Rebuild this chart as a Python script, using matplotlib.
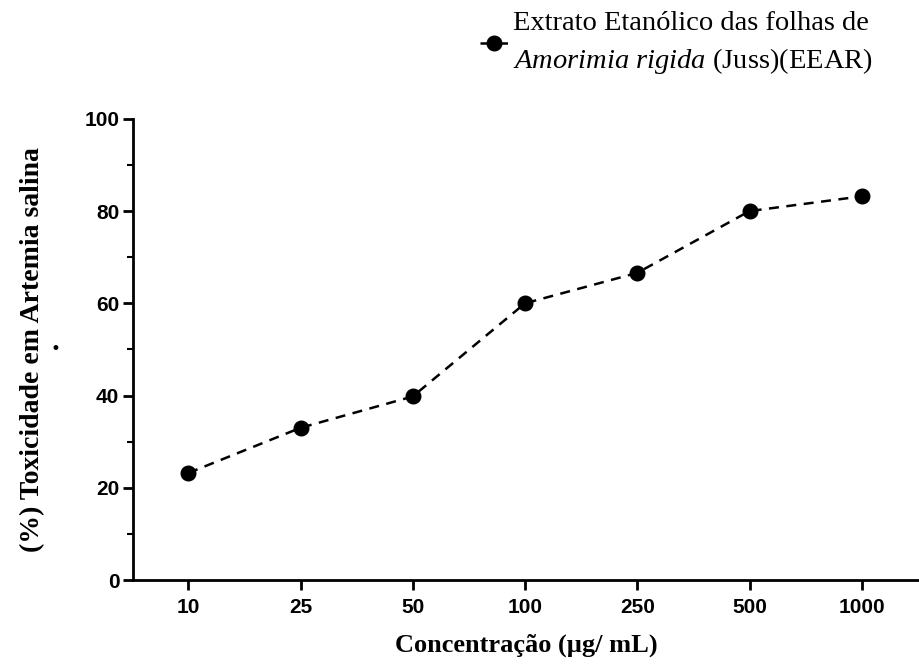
import matplotlib.pyplot as plt
from matplotlib import font_manager
from matplotlib.ticker import MultipleLocator

plt.rcParams['mathtext.fontset'] = 'custom'
plt.rcParams['mathtext.rm'] = 'Liberation Serif'
plt.rcParams['mathtext.it'] = 'Liberation Serif:italic'

# ========== Data ==========
concentrations = ['10', '25', '50', '100', '250', '500', '1000']
toxicity = [23.2, 33.0, 39.8, 60.0, 66.6, 80.0, 83.2]

serif = 'Liberation Serif'
installed = {f.name for f in font_manager.fontManager.ttflist}
narrow = next((n for n in ['Liberation Sans Narrow', 'DejaVu Sans Condensed', 'Liberation Sans']
               if n in installed), 'DejaVu Sans')
narrow_size = 18 if narrow == 'Liberation Sans Narrow' else 15

fig = plt.figure(figsize=(9.19, 6.64), dpi=100)
ax = fig.add_axes([0.145, 0.1265, 0.855, 0.6945])

x = list(range(len(concentrations)))
ax.plot(x, toxicity, color='black', linestyle='--', linewidth=1.8, dashes=(4, 3),
        marker='o', markersize=10.5,
        label='Extrato Etanólico das folhas de\n$\\it{Amorimia\\ rigida}$ (Juss)(EEAR)')

ax.set_xlim(-0.49, 6.51)
ax.set_ylim(0, 100)
ax.set_xticks(x)
ax.set_xticklabels(concentrations)
ax.yaxis.set_major_locator(MultipleLocator(20))
ax.yaxis.set_minor_locator(MultipleLocator(10))

for s in ['top', 'right']:
    ax.spines[s].set_visible(False)
for s in ['left', 'bottom']:
    ax.spines[s].set_linewidth(2)

ax.tick_params(axis='both', which='major', direction='out', length=7, width=2, pad=3)
ax.tick_params(axis='x', which='major', pad=6)
ax.tick_params(axis='y', which='minor', direction='out', length=4, width=1.5)
for lab in ax.get_xticklabels() + ax.get_yticklabels():
    lab.set_family(narrow)
    lab.set_fontsize(narrow_size)
    lab.set_fontweight('bold')

ax.set_xlabel('Concentração (µg/ mL)', family=serif, fontweight='bold', fontsize=19, labelpad=12)
ax.set_ylabel('(%) Toxicidade em Artemia salina', family=serif, fontweight='bold', fontsize=20, labelpad=28)

# stray dot next to the y label, as in the source figure
fig.text(0.06, 0.474, '•', fontsize=12, ha='center', va='center')

leg = fig.legend(loc='upper left', bbox_to_anchor=(0.51, 1.0), frameon=False,
                 handlelength=1.0, handletextpad=0.15, borderaxespad=0.0,
                 prop={'family': serif, 'size': 20.5})
leg.get_texts()[0].set_linespacing(1.45)

fig.savefig('out.png', dpi=100)
